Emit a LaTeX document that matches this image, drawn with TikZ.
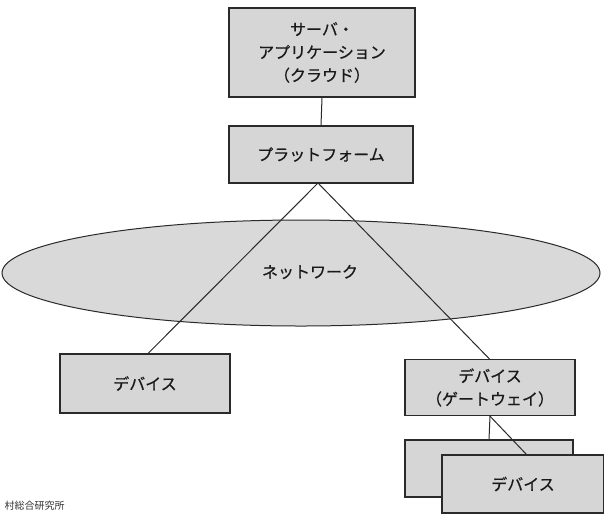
\documentclass[tikz,border=0pt]{standalone}
\usepackage{fontspec}
\newfontfamily\jp[FakeBold=0.6]{Noto Sans CJK JP}
\newfontfamily\jpplain{Noto Sans CJK JP}
\usetikzlibrary{shapes.geometric}
\pgfdeclarelayer{bottom}
\pgfdeclarelayer{lines}
\pgfsetlayers{bottom,lines,main}
\definecolor{boxfill}{HTML}{D6D6D6}
\definecolor{ellfill}{HTML}{D9D9D9}
\definecolor{edge}{HTML}{2A2A2A}
\tikzset{
  box/.style={draw=edge, line width=1.3pt, fill=boxfill, inner sep=0pt, font=\jp\fontsize{16}{23}\selectfont, text=black!90, align=center},
  conn/.style={draw=edge, line width=1pt},
}
\begin{document}
\begin{tikzpicture}[x=1pt,y=-1pt]
\useasboundingbox (0,0) rectangle (604,515);
\begin{pgfonlayer}{bottom}
\fill[white] (0,0) rectangle (604,515);
\node[ellipse, draw=edge, line width=1pt, fill=ellfill, minimum width=598pt, minimum height=106pt, inner sep=0pt] (net) at (301,273) {};
\end{pgfonlayer}
\node[font=\jp\fontsize{16}{20}\selectfont, text=black!90] (nettxt) at (310,272) {ネットワーク};
\node[box, minimum width=186pt, minimum height=89pt] (srv) at (322,52.5) {サーバ・\\アプリケーション\\（クラウド）};
\node[box, minimum width=184pt, minimum height=57pt] (plat) at (321,154.5) {プラットフォーム};
\node[box, minimum width=170pt, minimum height=59pt] (dev) at (145,383.5) {デバイス};
\node[box, minimum width=170pt, minimum height=56pt] (gw) at (490,387.5) {デバイス\\（ゲートウェイ）};
\node[box, minimum width=168pt, minimum height=57pt] (back) at (489,468.5) {};
\draw[conn] (gw.south) -- (back.north);
\node[box, minimum width=162pt, minimum height=58pt] (front) at (523,484) {デバイス};
\coordinate (pb) at (318,183);
\coordinate (dt) at (147,354.5);
\coordinate (gt) at (490,359.5);
\coordinate (ft) at (527,455);
\draw[conn] (gw.south) -- (ft);
\begin{pgfonlayer}{lines}
\draw[conn] (srv.south) -- (plat.north);
\draw[conn] (pb) -- (dt);
\draw[conn] (pb) -- (gt);
\end{pgfonlayer}
\node[anchor=base west, font=\jpplain\fontsize{10}{12}\selectfont, text=black!80] (wm) at (1,509) {村総合研究所};
\end{tikzpicture}
\end{document}
